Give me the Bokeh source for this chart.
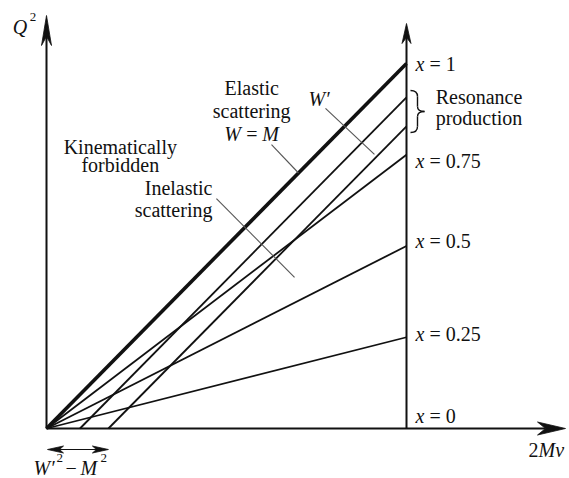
from bokeh.plotting import figure
from bokeh.models import Range1d
from bokeh.core.properties import value
from bokeh.embed import file_html
from bokeh.resources import INLINE

# Bjorken-x lines through the origin: Q^2 = x * (2M nu)
x_values = [1.0, 0.75, 0.5, 0.25]
# labels written at the vertical reference line 2M nu = 1
label_values = [1.0, 0.75, 0.5, 0.25, 0.0]
label_texts = ["1", "0.75", "0.5", "0.25", "0"]
# resonance lines: Q^2 = 2M nu - (W'^2 - M^2), one per resonance mass W'
resonance_offsets = [0.093, 0.172]
nu_ref = 1.0  # position of the vertical reference line on the 2M nu axis

W, H = 569, 478
X0, X1 = -46 / 360, 523 / 360
Y0, Y1 = -50 / 365, 428 / 365
PX = (X1 - X0) / W   # data units per screen pixel, horizontal
PY = (Y1 - Y0) / H   # data units per screen pixel, vertical
TEXT_LIFT = 8        # px: moves the rendered baseline onto the intended one

FONT = value("Liberation Serif")
FS = "20px"
INK = "#111111"

p = figure(width=W, height=H, x_range=Range1d(X0, X1), y_range=Range1d(Y0, Y1),
           output_backend="svg", toolbar_location=None, min_border=0)
p.axis.visible = False
p.grid.visible = False
p.outline_line_color = None
p.background_fill_color = "white"
p.border_fill_color = "white"


def head(tx, ty, ux, uy, length, half, notch):
    """Filled vee arrowhead with its tip at (tx, ty), pointing along (ux, uy)."""
    bx, by = -ux * length, -uy * length
    qx, qy = -uy * half, ux * half
    nx, ny = -ux * (length - notch), -uy * (length - notch)
    xs = [tx, tx + (bx + qx) * PX, tx + nx * PX, tx + (bx - qx) * PX]
    ys = [ty, ty + (by + qy) * PY, ty + ny * PY, ty + (by - qy) * PY]
    p.patch(xs, ys, fill_color=INK, line_color=INK, line_width=0.8)


def txt(x, y, s, italic=False, size=FS, align="left", dx=0.0, dy=0.0):
    """Text with its baseline at (x, y); dx right and dy down, in pixels."""
    p.text(x=[x + dx * PX], y=[y - (dy - TEXT_LIFT) * PY], text=[s], text_font=FONT,
           text_font_size=size, text_font_style="italic" if italic else "normal",
           text_align=align, text_baseline="alphabetic", text_color=INK)


# ---- axes with arrowheads ----
y_top = Y1 - 15 * PY
x_right = X1 - 4 * PX
v_top = Y1 - 23 * PY
p.line([0, 0], [0, y_top - 20 * PY], line_color=INK, line_width=2)
head(0, y_top, 0, 1, 30, 5, 9)
p.line([0, x_right - 20 * PX], [0, 0], line_color=INK, line_width=2)
head(x_right, 0, 1, 0, 28, 6.5, 8)
p.line([nu_ref, nu_ref], [0, v_top - 12 * PY], line_color=INK, line_width=2)
head(nu_ref, v_top, 0, 1, 20, 4.5, 6)

# ---- constant-x lines from the origin ----
for xv in x_values:
    p.line([0, nu_ref], [0, xv * nu_ref], line_color=INK,
           line_width=3.6 if xv == 1.0 else 1.8)

# ---- resonance lines, parallel to the elastic line ----
for d in resonance_offsets:
    p.line([d, nu_ref], [0, nu_ref - d], line_color=INK, line_width=1.8)

# ---- x labels at the reference line ----
label_dy = [8, 14, 2.5, 5, -5]   # baseline shift below the crossing point, px
for v, t, dy in zip(label_values, label_texts, label_dy):
    txt(nu_ref, v * nu_ref, "x", italic=True, dx=9, dy=dy)
    txt(nu_ref, v * nu_ref, "= " + t, dx=23, dy=dy)

# ---- brace for the resonance region ----
bx0 = nu_ref + 4 * PX
btop = (nu_ref - resonance_offsets[0]) + 7 * PY
def bpt(u, v):
    return bx0 + u * PX, btop - v * PY
segs = [((0, 0), (5, 0), (7, 2), (7, 6)),
        ((7, 16), (7, 20), (11, 21), (14, 21)),
        ((14, 21), (11, 21), (7, 22), (7, 26)),
        ((7, 36), (7, 40), (5, 42), (0, 42))]
for a, c0, c1, b in segs:
    (xa, ya), (xc0, yc0), (xc1, yc1), (xb, yb) = bpt(*a), bpt(*c0), bpt(*c1), bpt(*b)
    p.bezier(x0=[xa], y0=[ya], x1=[xb], y1=[yb], cx0=[xc0], cy0=[yc0],
             cx1=[xc1], cy1=[yc1], line_color=INK, line_width=1.4)
xa, ya = bpt(7, 6); xb, yb = bpt(7, 16)
p.line([xa, xb], [ya, yb], line_color=INK, line_width=1.4)
xa, ya = bpt(7, 26); xb, yb = bpt(7, 36)
p.line([xa, xb], [ya, yb], line_color=INK, line_width=1.4)
txt(1.081, 0.885, "Resonance")
txt(1.081, 0.830, "production")

# ---- leader lines ----
leaders = [((0.625, 0.778), (0.700, 0.700)),   # elastic
           ((0.472, 0.630), (0.689, 0.414)),   # inelastic
           ((0.775, 0.877), (0.911, 0.751))]   # W'
for (a, b) in leaders:
    p.line([a[0], b[0]], [a[1], b[1]], line_color="#555555", line_width=1.1)

# ---- region texts ----
txt(0.205, 0.748, "Kinematically", align="center")
txt(0.205, 0.699, "forbidden", align="center")
txt(0.461, 0.638, "Inelastic", align="right")
txt(0.461, 0.578, "scattering", align="right")
txt(0.570, 0.912, "Elastic", align="center")
txt(0.570, 0.847, "scattering", align="center")
wm_left = 0.569 - 27 * PX
txt(wm_left, 0.784, "W", italic=True)
txt(wm_left, 0.784, "=", dx=22)
txt(wm_left, 0.784, "M", italic=True, dx=38)
txt(0.728, 0.882, "W\u2032", italic=True)

# ---- axis titles ----
txt(-0.094, 1.079, "Q", italic=True)
txt(-0.094, 1.079, "2", size="13px", dx=17, dy=-10)
txt(1.339, -0.082, "2")
txt(1.339, -0.082, "M\u03bd", italic=True, dx=10)

# ---- W'^2 - M^2 span on the 2M nu axis ----
ay = -21 * PY
span = resonance_offsets[1]
p.line([0 + 10 * PX, span - 10 * PX], [ay, ay], line_color=INK, line_width=1.2)
head(0 + 1 * PX, ay, -1, 0, 16, 3.5, 4)
head(span, ay, 1, 0, 16, 3.5, 4)
bl = -0.129
lx = -0.036
txt(lx, bl, "W\u2032", italic=True)
txt(lx, bl, "2", size="13px", dx=23, dy=-10)
txt(lx, bl, "\u2212", dx=32)
txt(lx, bl, "M", italic=True, dx=47)
txt(lx, bl, "2", size="13px", dx=67, dy=-10)

open("out.html", "w").write(file_html(p, INLINE))
